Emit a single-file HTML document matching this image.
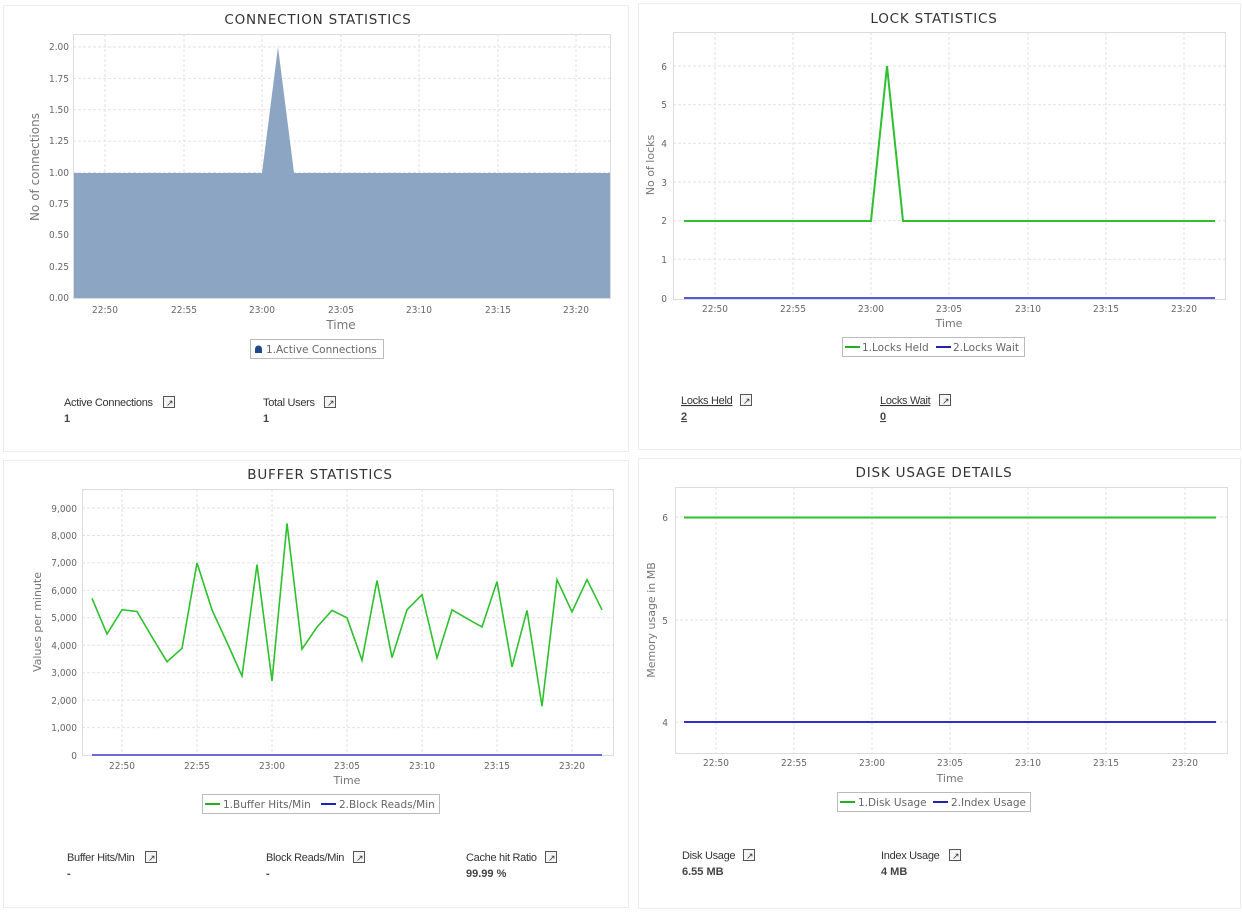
<!DOCTYPE html>
<html><head><meta charset="utf-8"><style>
body{margin:0;background:#fff;width:1242px;height:919px;overflow:hidden}
svg{display:block}
.t{font-family:"DejaVu Sans",sans-serif;font-size:13.5px;fill:#333;letter-spacing:0.8px}
.tk{font-family:"DejaVu Sans Condensed","DejaVu Sans",sans-serif;font-size:10px;fill:#666}
.ax{font-family:"DejaVu Sans",sans-serif;font-size:11px;fill:#777}
.lg{font-family:"DejaVu Sans",sans-serif;font-size:10.5px;fill:#666}
.st{font-family:"Liberation Sans",sans-serif;font-size:11px;fill:#333;letter-spacing:-0.3px}
.sv{font-family:"Liberation Sans",sans-serif;font-size:11px;fill:#444;font-weight:bold}
.g{stroke:#e2e2e2;stroke-dasharray:3,2;stroke-width:1}
.pb{fill:none;stroke:#dcdcdc}
.ic{fill:#f4f4f4;stroke:#555;stroke-width:1}
</style></head><body>
<svg width="1242" height="919" viewBox="0 0 1242 919">
<!-- panels -->
<rect x="3.5" y="5.5" width="625" height="446" fill="#fff" stroke="#ececec"/>
<rect x="638.5" y="3.5" width="602" height="446" fill="#fff" stroke="#ececec"/>
<rect x="3.5" y="460.5" width="625" height="447" fill="#fff" stroke="#ececec"/>
<rect x="638.5" y="458.5" width="602" height="450" fill="#fff" stroke="#ececec"/>

<!-- CONNECTION -->
<text class="t" x="318" y="24" text-anchor="middle">CONNECTION STATISTICS</text>
<g class="g">
<line x1="73" x2="610" y1="266.6" y2="266.6"/><line x1="73" x2="610" y1="235.3" y2="235.3"/><line x1="73" x2="610" y1="203.9" y2="203.9"/><line x1="73" x2="610" y1="172.5" y2="172.5"/><line x1="73" x2="610" y1="141.1" y2="141.1"/><line x1="73" x2="610" y1="109.8" y2="109.8"/><line x1="73" x2="610" y1="78.4" y2="78.4"/><line x1="73" x2="610" y1="47" y2="47"/>
<line x1="105" x2="105" y1="34" y2="298"/><line x1="184" x2="184" y1="34" y2="298"/><line x1="262" x2="262" y1="34" y2="298"/><line x1="341" x2="341" y1="34" y2="298"/><line x1="419" x2="419" y1="34" y2="298"/><line x1="498" x2="498" y1="34" y2="298"/><line x1="576" x2="576" y1="34" y2="298"/>
</g>
<polygon points="73,298 73,173 262,173 278,47 294,173 610,173 610,298" fill="#8ca5c2"/>
<rect class="pb" x="73.5" y="34.5" width="537" height="264"/>
<g class="tk" text-anchor="end">
<text x="69" y="301">0.00</text><text x="69" y="270">0.25</text><text x="69" y="238">0.50</text><text x="69" y="207">0.75</text><text x="69" y="176">1.00</text><text x="69" y="144">1.25</text><text x="69" y="113">1.50</text><text x="69" y="82">1.75</text><text x="69" y="50">2.00</text>
</g>
<g class="tk" text-anchor="middle">
<text x="105" y="313">22:50</text><text x="184" y="313">22:55</text><text x="262" y="313">23:00</text><text x="341" y="313">23:05</text><text x="419" y="313">23:10</text><text x="498" y="313">23:15</text><text x="576" y="313">23:20</text>
</g>
<text class="ax" x="341" y="329" text-anchor="middle" style="font-size:12px">Time</text>
<text class="ax" transform="translate(39,167) rotate(-90)" text-anchor="middle" style="font-size:12px">No of connections</text>
<rect x="250.5" y="339.5" width="133" height="19" fill="#fff" stroke="#bbb"/>
<path d="M255,353 v-4 a3.5,3.5 0 0 1 7,0 v4 z" fill="#1e4a8a"/>
<text class="lg" x="266" y="353">1.Active Connections</text>
<text class="st" x="64" y="406">Active Connections</text><rect class="ic" x="163.5" y="396.5" width="11" height="11"/><text x="166" y="406" style="font-size:9px" fill="#333">↗</text>
<text class="sv" x="64" y="422">1</text>
<text class="st" x="263" y="406">Total Users</text><rect class="ic" x="324.5" y="396.5" width="11" height="11"/><text x="327" y="406" style="font-size:9px" fill="#333">↗</text>
<text class="sv" x="263" y="422">1</text>

<!-- LOCK -->
<text class="t" x="934" y="23" text-anchor="middle">LOCK STATISTICS</text>
<g class="g">
<line x1="673" x2="1226" y1="259.3" y2="259.3"/><line x1="673" x2="1226" y1="220.7" y2="220.7"/><line x1="673" x2="1226" y1="182" y2="182"/><line x1="673" x2="1226" y1="143.3" y2="143.3"/><line x1="673" x2="1226" y1="104.7" y2="104.7"/><line x1="673" x2="1226" y1="66" y2="66"/>
<line x1="715" x2="715" y1="32" y2="300"/><line x1="793" x2="793" y1="32" y2="300"/><line x1="871" x2="871" y1="32" y2="300"/><line x1="949" x2="949" y1="32" y2="300"/><line x1="1028" x2="1028" y1="32" y2="300"/><line x1="1106" x2="1106" y1="32" y2="300"/><line x1="1184" x2="1184" y1="32" y2="300"/>
</g>
<rect class="pb" x="673.5" y="32.5" width="552" height="267"/>
<polyline points="684,221 871,221 887,66 903,221 1215,221" fill="none" stroke="#2ec02e" stroke-width="2"/>
<line x1="684" x2="1215" y1="298" y2="298" stroke="#5858d0" stroke-width="2"/>
<g class="tk" text-anchor="end">
<text x="667" y="302">0</text><text x="667" y="263">1</text><text x="667" y="224">2</text><text x="667" y="186">3</text><text x="667" y="147">4</text><text x="667" y="108">5</text><text x="667" y="70">6</text>
</g>
<g class="tk" text-anchor="middle">
<text x="715" y="312">22:50</text><text x="793" y="312">22:55</text><text x="871" y="312">23:00</text><text x="949" y="312">23:05</text><text x="1028" y="312">23:10</text><text x="1106" y="312">23:15</text><text x="1184" y="312">23:20</text>
</g>
<text class="ax" x="949" y="327" text-anchor="middle">Time</text>
<text class="ax" transform="translate(654,165) rotate(-90)" text-anchor="middle">No of locks</text>
<rect x="842.5" y="337.5" width="182" height="19" fill="#fff" stroke="#bbb"/>
<line x1="845" x2="860" y1="347" y2="347" stroke="#22b022" stroke-width="2"/><text class="lg" x="862" y="351">1.Locks Held</text>
<line x1="936" x2="951" y1="347" y2="347" stroke="#2222b0" stroke-width="2"/><text class="lg" x="953" y="351">2.Locks Wait</text>
<text class="st" x="681" y="404" text-decoration="underline">Locks Held</text><rect class="ic" x="740.5" y="394.5" width="11" height="11"/><text x="743" y="404" style="font-size:9px" fill="#333">↗</text>
<text class="sv" x="681" y="420" text-decoration="underline">2</text>
<text class="st" x="880" y="404" text-decoration="underline">Locks Wait</text><rect class="ic" x="939.5" y="394.5" width="11" height="11"/><text x="942" y="404" style="font-size:9px" fill="#333">↗</text>
<text class="sv" x="880" y="420" text-decoration="underline">0</text>

<!-- BUFFER -->
<text class="t" x="320" y="479" text-anchor="middle">BUFFER STATISTICS</text>
<g class="g">
<line x1="82" x2="614" y1="727.6" y2="727.6"/><line x1="82" x2="614" y1="700.1" y2="700.1"/><line x1="82" x2="614" y1="672.7" y2="672.7"/><line x1="82" x2="614" y1="645.2" y2="645.2"/><line x1="82" x2="614" y1="617.8" y2="617.8"/><line x1="82" x2="614" y1="590.4" y2="590.4"/><line x1="82" x2="614" y1="562.9" y2="562.9"/><line x1="82" x2="614" y1="535.5" y2="535.5"/><line x1="82" x2="614" y1="508" y2="508"/>
<line x1="122" x2="122" y1="489" y2="756"/><line x1="197" x2="197" y1="489" y2="756"/><line x1="272" x2="272" y1="489" y2="756"/><line x1="347" x2="347" y1="489" y2="756"/><line x1="422" x2="422" y1="489" y2="756"/><line x1="497" x2="497" y1="489" y2="756"/><line x1="572" x2="572" y1="489" y2="756"/>
</g>
<rect class="pb" x="82.5" y="489.5" width="531" height="266"/>
<polyline fill="none" stroke="#2ec02e" stroke-width="1.6" points="92,598.3 107,634 122,609.8 137,611.5 152,637 167,661.7 182,648.3 197,562.9 212,609.8 227,642.5 242,676 257,564.6 272,680.9 287,523.4 302,649.1 317,627.1 332,610.4 347,617.8 362,660.3 377,580.5 392,657.6 407,609.8 422,594.7 437,657.9 452,609.8 467,618.6 482,626.9 497,581.6 512,666.9 527,610.4 542,706.2 557,579.7 572,611.8 587,579.7 602,609.8"/>
<line x1="92" x2="602" y1="755" y2="755" stroke="#6a6ad8" stroke-width="2"/>
<g class="tk" text-anchor="end">
<text x="77" y="759">0</text><text x="77" y="731">1,000</text><text x="77" y="704">2,000</text><text x="77" y="676">3,000</text><text x="77" y="649">4,000</text><text x="77" y="621">5,000</text><text x="77" y="594">6,000</text><text x="77" y="566">7,000</text><text x="77" y="539">8,000</text><text x="77" y="512">9,000</text>
</g>
<g class="tk" text-anchor="middle">
<text x="122" y="769">22:50</text><text x="197" y="769">22:55</text><text x="272" y="769">23:00</text><text x="347" y="769">23:05</text><text x="422" y="769">23:10</text><text x="497" y="769">23:15</text><text x="572" y="769">23:20</text>
</g>
<text class="ax" x="347" y="784" text-anchor="middle">Time</text>
<text class="ax" transform="translate(41,622) rotate(-90)" text-anchor="middle">Values per minute</text>
<rect x="202.5" y="794.5" width="237" height="19" fill="#fff" stroke="#bbb"/>
<line x1="205" x2="220" y1="804" y2="804" stroke="#22b022" stroke-width="2"/><text class="lg" x="223" y="808">1.Buffer Hits/Min</text>
<line x1="321" x2="336" y1="804" y2="804" stroke="#2222b0" stroke-width="2"/><text class="lg" x="339" y="808">2.Block Reads/Min</text>
<text class="st" x="67" y="861">Buffer Hits/Min</text><rect class="ic" x="145.5" y="851.5" width="11" height="11"/><text x="148" y="861" style="font-size:9px" fill="#333">↗</text>
<text class="sv" x="67" y="877">-</text>
<text class="st" x="266" y="861">Block Reads/Min</text><rect class="ic" x="353.5" y="851.5" width="11" height="11"/><text x="356" y="861" style="font-size:9px" fill="#333">↗</text>
<text class="sv" x="266" y="877">-</text>
<text class="st" x="466" y="861">Cache hit Ratio</text><rect class="ic" x="545.5" y="851.5" width="11" height="11"/><text x="548" y="861" style="font-size:9px" fill="#333">↗</text>
<text class="sv" x="466" y="877">99.99 %</text>

<!-- DISK -->
<text class="t" x="934" y="477" text-anchor="middle">DISK USAGE DETAILS</text>
<g class="g">
<line x1="675" x2="1227" y1="517" y2="517"/><line x1="675" x2="1227" y1="620" y2="620"/><line x1="675" x2="1227" y1="722" y2="722"/>
<line x1="716" x2="716" y1="487" y2="753"/><line x1="794" x2="794" y1="487" y2="753"/><line x1="872" x2="872" y1="487" y2="753"/><line x1="950" x2="950" y1="487" y2="753"/><line x1="1028" x2="1028" y1="487" y2="753"/><line x1="1106" x2="1106" y1="487" y2="753"/><line x1="1185" x2="1185" y1="487" y2="753"/>
</g>
<rect class="pb" x="675.5" y="487.5" width="552" height="266"/>
<line x1="684" x2="1216" y1="517.5" y2="517.5" stroke="#2ec02e" stroke-width="2"/>
<line x1="684" x2="1216" y1="722" y2="722" stroke="#3030c8" stroke-width="2"/>
<g class="tk" text-anchor="end">
<text x="668" y="521">6</text><text x="668" y="624">5</text><text x="668" y="726">4</text>
</g>
<g class="tk" text-anchor="middle">
<text x="716" y="766">22:50</text><text x="794" y="766">22:55</text><text x="872" y="766">23:00</text><text x="950" y="766">23:05</text><text x="1028" y="766">23:10</text><text x="1106" y="766">23:15</text><text x="1185" y="766">23:20</text>
</g>
<text class="ax" x="950" y="782" text-anchor="middle">Time</text>
<text class="ax" transform="translate(655,620) rotate(-90)" text-anchor="middle">Memory usage in MB</text>
<rect x="837.5" y="792.5" width="193" height="19" fill="#fff" stroke="#bbb"/>
<line x1="840" x2="855" y1="802" y2="802" stroke="#22b022" stroke-width="2"/><text class="lg" x="858" y="806">1.Disk Usage</text>
<line x1="933" x2="948" y1="802" y2="802" stroke="#2222b0" stroke-width="2"/><text class="lg" x="951" y="806">2.Index Usage</text>
<text class="st" x="682" y="859">Disk Usage</text><rect class="ic" x="743.5" y="849.5" width="11" height="11"/><text x="746" y="859" style="font-size:9px" fill="#333">↗</text>
<text class="sv" x="682" y="875">6.55 MB</text>
<text class="st" x="881" y="859">Index Usage</text><rect class="ic" x="949.5" y="849.5" width="11" height="11"/><text x="952" y="859" style="font-size:9px" fill="#333">↗</text>
<text class="sv" x="881" y="875">4 MB</text>
</svg>
</body></html>
